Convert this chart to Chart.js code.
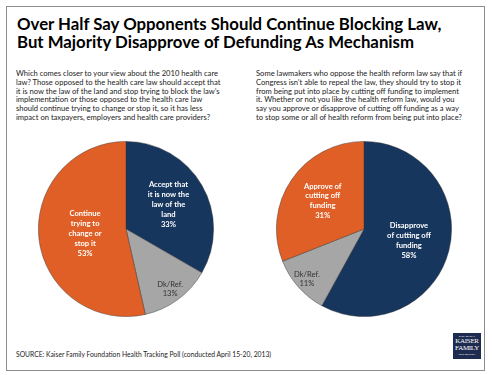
<!DOCTYPE html>
<html>
<head>
<meta charset="utf-8">
<script src="https://cdn.jsdelivr.net/npm/chart.js@4.4.0/dist/chart.umd.min.js"></script>
<style>
  html, body { margin:0; padding:0; background:#fff; }
  body { width:492px; height:375px; position:relative; overflow:hidden; font-family:Lato, "Open Sans", sans-serif; color:#1a1a1a; }
  #frame { position:absolute; left:6px; top:6px; width:479px; height:365px; border:1px solid #8c8c8c; box-sizing:border-box; }
  #title { position:absolute; left:17px; top:15px; font-weight:bold; font-size:16.8px; line-height:18px; color:#000; white-space:nowrap; }
  .q { position:absolute; top:69px; font-size:7.6px; line-height:8.75px; white-space:nowrap; color:#222; }
  #q1 { left:16px; }
  #q2 { left:256px; }
  .pie { position:absolute; top:141px; width:176px; height:176px; }
  #wrap1 { left:38px; }
  #wrap2 { left:276px; }
  #source { position:absolute; left:16px; top:350px; font-size:6.75px; color:#222; white-space:nowrap; }
  #logo { position:absolute; left:453px; top:333px; width:28px; height:26px; background:#1c2b4f; color:#fff; text-align:center; font-family:"Liberation Serif", serif; line-height:1; }
  #logo .s { font-family:Lato, sans-serif; font-size:2.6px; display:block; margin-top:2px; }
  #logo .b { font-size:7px; display:block; letter-spacing:-0.3px; }
</style>
</head>
<body>
<div id="frame"></div>
<div id="title">Over Half Say Opponents Should Continue Blocking Law,<br>But Majority Disapprove of Defunding As Mechanism</div>
<div class="q" id="q1">Which comes closer to your view about the 2010 health care<br>law? Those opposed to the health care law should accept that<br>it is now the law of the land and stop trying to block the law’s<br>implementation or those opposed to the health care law<br>should continue trying to change or stop it, so it has less<br>impact on taxpayers, employers and health care providers?</div>
<div class="q" id="q2">Some lawmakers who oppose the health reform law say that if<br>Congress isn’t able to repeal the law, they should try to stop it<br>from being put into place by cutting off funding to implement<br>it. Whether or not you like the health reform law, would you<br>say you approve or disapprove of cutting off funding as a way<br>to stop some or all of health reform from being put into place?</div>
<div class="pie" id="wrap1"><canvas id="pie1"></canvas></div>
<div class="pie" id="wrap2"><canvas id="pie2"></canvas></div>
<div id="source">SOURCE: Kaiser Family Foundation Health Tracking Poll (conducted April 15-20, 2013)</div>
<div id="logo"><span class="s">THE HENRY J.</span><span class="b">KAISER</span><span class="b">FAMILY</span><span class="s" style="margin-top:1px">FOUNDATION</span></div>
<script>
// data
const blockCats = [['Accept that', 'it is now the', 'law of the', 'land'], ['Dk/Ref.'], ['Continue', 'trying to', 'change or', 'stop it']];
const blockVals = [33, 13, 53];
const fundCats = [['Disapprove', 'of cutting off', 'funding'], ['Dk/Ref.'], ['Approve of', 'cutting off', 'funding']];
const fundVals = [58, 11, 31];

const navy = '#17365d', grey = '#a6a6a6', orange = '#e05f26';

// label plugin: text at a fraction of the radius along each slice's middle angle
const sliceLabels = {
  id: 'sliceLabels',
  afterDatasetsDraw(chart, args, opts) {
    const ctx = chart.ctx;
    const cats = chart.data.labels;
    const vals = chart.data.datasets[0].data;
    chart.getDatasetMeta(0).data.forEach(function(arc, i) {
      const p = arc.getProps(['x', 'y', 'startAngle', 'endAngle', 'outerRadius'], true);
      const mid = (p.startAngle + p.endAngle) / 2;
      const r = p.outerRadius * opts.pos[i];
      const x = p.x + Math.cos(mid) * r;
      const y = p.y + Math.sin(mid) * r;
      const lines = cats[i].concat([vals[i] + '%']);
      const light = opts.dark[i] ? false : true;
      ctx.save();
      ctx.font = (light ? 'bold ' : '') + '7.6px Lato';
      ctx.fillStyle = light ? '#ffffff' : '#333333';
      ctx.textAlign = 'center';
      ctx.textBaseline = 'middle';
      const lh = light ? 9.8 : 9.2;
      const y0 = y - (lines.length - 1) * lh / 2;
      lines.forEach(function(t, k) { ctx.fillText(t, x, y0 + k * lh); });
      ctx.restore();
    });
  }
};

function makePie(id, cats, vals, pos, dark) {
  return new Chart(document.getElementById(id), {
    type: 'pie',
    data: {
      labels: cats,
      datasets: [{
        data: vals,
        backgroundColor: [navy, grey, orange],
        borderColor: 'rgba(50,50,50,0.55)',
        borderWidth: 0.8
      }]
    },
    options: {
      responsive: true, maintainAspectRatio: false, animation: false,
      layout: { padding: 0 },
      plugins: {
        legend: { display: false },
        tooltip: { enabled: false },
        sliceLabels: { pos: pos, dark: dark }
      }
    },
    plugins: [sliceLabels]
  });
}

makePie('pie1', blockCats, blockVals, [0.56, 0.85, 0.47], [false, true, false]);
makePie('pie2', fundCats, fundVals, [0.53, 0.87, 0.57], [false, true, false]);
</script>
</body>
</html>
